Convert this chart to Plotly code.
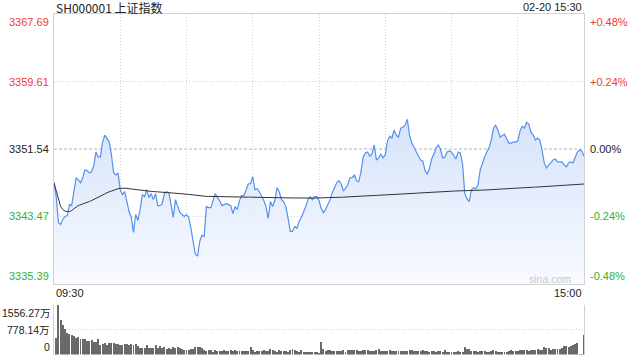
import plotly.graph_objects as go

# ---------------- data ----------------
prev_close = 3351.54
price_ticks = [3367.69, 3359.61, 3351.54, 3343.47, 3335.39]
pct_labels = ["+0.48%", "+0.24%", "0.00%", "-0.24%", "-0.48%"]
vol_ticks = [1556.27, 778.14, 0]
vol_labels = ["1556.27万", "778.14万", "0"]
time_labels = ["09:30", "15:00"]
grid_minutes = [30, 60, 90, 120, 150, 180, 210]

price = [
    3347.50, 3345.84, 3342.75, 3342.52, 3343.11, 3343.47, 3343.58, 3344.89, 3344.77, 3346.67,
    3348.10, 3347.86, 3347.50, 3348.10, 3349.05, 3348.93, 3348.69, 3348.81, 3349.52, 3351.18,
    3350.59, 3350.59, 3352.37, 3353.20, 3352.73, 3352.37, 3350.83, 3348.69, 3348.45, 3348.69,
    3346.67, 3346.08, 3346.43, 3345.25, 3344.06, 3343.35, 3341.57, 3343.70, 3342.99, 3344.30,
    3346.08, 3345.84, 3346.67, 3345.72, 3346.20, 3345.48, 3346.20, 3344.77, 3344.77, 3345.01,
    3346.20, 3346.43, 3346.32, 3344.89, 3343.35, 3345.48, 3344.65, 3343.94, 3343.70, 3343.47,
    3343.70, 3343.35, 3342.04, 3340.50, 3338.95, 3338.72, 3340.50, 3341.21, 3341.09, 3344.65,
    3344.53, 3344.53, 3345.48, 3346.20, 3345.72, 3345.37, 3344.77, 3344.89, 3345.01, 3344.89,
    3344.77, 3343.82, 3344.65, 3344.30, 3345.37, 3345.96, 3345.96, 3346.67, 3347.38, 3347.38,
    3348.22, 3346.67, 3346.79, 3346.43, 3345.96, 3345.37, 3344.65, 3343.23, 3345.25, 3344.65,
    3345.37, 3346.91, 3346.43, 3345.48, 3345.25, 3344.65, 3343.23, 3341.68, 3341.68, 3342.28,
    3342.04, 3342.87, 3343.35, 3343.94, 3344.65, 3345.48, 3345.84, 3345.48, 3345.84, 3345.84,
    3345.37, 3344.42, 3343.94, 3344.30, 3344.89, 3345.48, 3346.32, 3347.03, 3347.50, 3347.74,
    3347.38, 3346.55, 3346.79, 3347.27, 3348.10, 3348.10, 3348.45, 3347.74, 3347.62, 3348.81,
    3350.59, 3351.07, 3351.18, 3350.71, 3350.95, 3352.02, 3350.23, 3350.47, 3350.95, 3350.47,
    3350.83, 3352.49, 3353.08, 3352.85, 3353.80, 3353.20, 3352.97, 3354.03, 3354.15, 3354.39,
    3355.10, 3353.20, 3352.25, 3351.78, 3351.18, 3350.71, 3350.23, 3350.12, 3348.93, 3348.57,
    3349.17, 3350.35, 3350.95, 3351.66, 3352.02, 3351.54, 3350.47, 3350.59, 3351.18, 3351.30,
    3351.18, 3350.71, 3350.35, 3351.18, 3351.07, 3349.76, 3346.20, 3345.60, 3345.25, 3346.67,
    3346.91, 3346.79, 3347.27, 3349.05, 3349.88, 3350.59, 3351.18, 3351.66, 3352.61, 3354.03,
    3354.39, 3353.80, 3352.97, 3353.20, 3353.32, 3352.73, 3352.25, 3352.25, 3352.37, 3352.37,
    3352.49, 3353.68, 3354.27, 3354.03, 3354.75, 3354.51, 3353.56, 3353.20, 3352.61, 3352.85,
    3352.61, 3351.42, 3349.88, 3349.28, 3349.64, 3350.00, 3350.23, 3350.35, 3350.00, 3350.00,
    3350.00, 3349.64, 3349.40, 3349.88, 3350.00, 3349.88, 3350.47, 3351.18, 3351.42, 3351.30,
    3350.71,
]

avg_price = [
    3347.50, 3346.43, 3345.37, 3344.65, 3344.30, 3344.10, 3344.06, 3344.06, 3344.18, 3344.42,
    3344.59, 3344.77, 3344.89, 3345.01, 3345.09, 3345.16, 3345.25, 3345.37, 3345.48, 3345.60,
    3345.78, 3345.90, 3346.02, 3346.16, 3346.32, 3346.43, 3346.55, 3346.65, 3346.73, 3346.79,
    3346.84, 3346.86, 3346.86, 3346.84, 3346.79, 3346.75, 3346.72, 3346.68, 3346.66, 3346.62,
    3346.59, 3346.55, 3346.53, 3346.49, 3346.47, 3346.45, 3346.42, 3346.40, 3346.38, 3346.36,
    3346.34, 3346.33, 3346.32, 3346.29, 3346.27, 3346.26, 3346.24, 3346.22, 3346.20, 3346.18,
    3346.15, 3346.11, 3346.08, 3346.04, 3346.01, 3345.96, 3345.91, 3345.89, 3345.88, 3345.87,
    3345.87, 3345.86, 3345.86, 3345.86, 3345.85, 3345.85, 3345.85, 3345.84, 3345.84, 3345.84,
    3345.83, 3345.82, 3345.82, 3345.81, 3345.80, 3345.80, 3345.79, 3345.79, 3345.78, 3345.78,
    3345.77, 3345.76, 3345.76, 3345.75, 3345.75, 3345.74, 3345.74, 3345.73, 3345.73, 3345.72,
    3345.72, 3345.71, 3345.71, 3345.70, 3345.70, 3345.69, 3345.69, 3345.68, 3345.68, 3345.68,
    3345.67, 3345.67, 3345.67, 3345.67, 3345.67, 3345.67, 3345.67, 3345.67, 3345.67, 3345.68,
    3345.68, 3345.69, 3345.69, 3345.70, 3345.70, 3345.71, 3345.72, 3345.73, 3345.74, 3345.76,
    3345.77, 3345.78, 3345.80, 3345.81, 3345.83, 3345.84, 3345.86, 3345.88, 3345.89, 3345.90,
    3345.92, 3345.93, 3345.94, 3345.95, 3345.97, 3345.98, 3345.99, 3346.00, 3346.02, 3346.03,
    3346.04, 3346.06, 3346.07, 3346.09, 3346.10, 3346.12, 3346.13, 3346.15, 3346.16, 3346.18,
    3346.19, 3346.21, 3346.22, 3346.24, 3346.25, 3346.27, 3346.29, 3346.31, 3346.33, 3346.35,
    3346.37, 3346.39, 3346.41, 3346.43, 3346.45, 3346.47, 3346.48, 3346.48, 3346.49, 3346.50,
    3346.51, 3346.51, 3346.52, 3346.53, 3346.53, 3346.54, 3346.55, 3346.55, 3346.56, 3346.57,
    3346.57, 3346.58, 3346.59, 3346.60, 3346.62, 3346.63, 3346.65, 3346.66, 3346.68, 3346.69,
    3346.71, 3346.72, 3346.74, 3346.75, 3346.77, 3346.78, 3346.80, 3346.81, 3346.83, 3346.84,
    3346.85, 3346.87, 3346.88, 3346.90, 3346.92, 3346.93, 3346.95, 3346.97, 3346.98, 3347.00,
    3347.02, 3347.03, 3347.05, 3347.07, 3347.08, 3347.10, 3347.12, 3347.13, 3347.15, 3347.17,
    3347.18, 3347.20, 3347.22, 3347.23, 3347.25, 3347.27, 3347.28, 3347.30, 3347.32, 3347.33,
    3347.35,
]

volume = [  # 万
    0, 524, 1556.27, 1080, 922, 796, 681, 650, 618, 576,
    524, 555, 482, 482, 482, 419, 419, 450, 398, 388,
    482, 304, 335, 356, 293, 356, 356, 356, 335, 325,
    293, 304, 325, 325, 304, 335, 293, 325, 262, 210,
    210, 189, 293, 199, 189, 210, 293, 210, 252, 210,
    231, 178, 189, 178, 231, 189, 231, 189, 168, 147,
    136, 147, 178, 178, 231, 231, 231, 189, 136, 115,
    157, 136, 94, 126, 105, 105, 105, 126, 115, 105,
    126, 115, 136, 115, 105, 105, 105, 105, 105, 231,
    126, 84, 105, 105, 105, 136, 105, 105, 168, 136,
    115, 84, 136, 115, 115, 115, 84, 126, 168, 136,
    115, 84, 147, 94, 84, 84, 84, 84, 84, 84,
    31, 388, 168, 115, 126, 136, 105, 105, 105, 105,
    105, 136, 84, 136, 136, 136, 136, 136, 115, 115,
    136, 136, 136, 115, 115, 115, 157, 168, 115, 105,
    105, 115, 136, 105, 105, 105, 105, 105, 105, 105,
    105, 136, 136, 115, 105, 105, 115, 136, 115, 105,
    84, 105, 105, 84, 105, 115, 84, 136, 84, 84,
    84, 84, 84, 105, 84, 84, 231, 178, 178, 115,
    105, 115, 84, 105, 105, 105, 84, 84, 115, 136,
    105, 84, 84, 84, 84, 84, 105, 136, 105, 105,
    105, 136, 136, 136, 136, 105, 136, 136, 136, 168,
    136, 157, 231, 199, 199, 157, 168, 168, 168, 168,
    210, 262, 262, 241, 272, 304, 335, 356, 10, 10,
    608,
]

minutes = list(range(len(price)))

# ---------------- styles ----------------
FONT = "Liberation Sans, Arial, Noto Sans CJK SC, sans-serif"
CJK = "Noto Sans CJK SC, Liberation Sans, sans-serif"
RED = "#f03a30"
GREEN = "#33b033"
BLACK = "#222222"
GRID = "#cfcfcf"
BORDER = "#d2d2d2"
XD = [54 / 640, 584 / 640]
YD_MAIN = [(360 - 284) / 360, (360 - 14) / 360]
YD_VOL = [(360 - 354.5) / 360, (360 - 305) / 360]

fig = go.Figure()

fig.add_trace(go.Scatter(
    x=minutes, y=price, mode="lines",
    line=dict(color="#5590ee", width=1.2),
    fill="tozeroy",
    fillgradient=dict(type="vertical",
                      colorscale=[[0, "rgba(248,250,255,1)"], [1, "rgba(214,227,250,1)"]],
                      start=price_ticks[-1], stop=max(price)),
    hoverinfo="skip", xaxis="x", yaxis="y",
))
fig.add_trace(go.Scatter(
    x=minutes, y=avg_price, mode="lines",
    line=dict(color="#333333", width=1),
    hoverinfo="skip", xaxis="x", yaxis="y",
))
fig.add_trace(go.Bar(
    x=minutes, y=volume, width=0.45,
    marker=dict(color="#6a6a6a", line=dict(width=0)),
    hoverinfo="skip", xaxis="x2", yaxis="y2",
))

fig.add_shape(type="line", xref="x", yref="y", x0=minutes[0], x1=minutes[-1],
              y0=prev_close, y1=prev_close, layer="below",
              line=dict(color="#b5b5b5", width=1, dash="3px,2px"))

annotations = []
for i, (v, pl) in enumerate(zip(price_ticks, pct_labels)):
    col = RED if v > prev_close else (GREEN if v < prev_close else BLACK)
    ya = "top" if i == 0 else ("bottom" if i == len(price_ticks) - 1 else "middle")
    annotations.append(dict(xref="paper", yref="y", x=XD[0], y=v, xshift=-3,
                            xanchor="right", yanchor=ya, text=f"{v:.2f}", showarrow=False,
                            font=dict(family=FONT, size=11, color=col)))
    annotations.append(dict(xref="paper", yref="y", x=XD[1], y=v, xshift=4,
                            xanchor="left", yanchor=ya, text=pl, showarrow=False,
                            font=dict(family=FONT, size=11, color=col)))
for i, (v, lab) in enumerate(zip(vol_ticks, vol_labels)):
    ya = "top" if i == 0 else ("bottom" if i == len(vol_ticks) - 1 else "middle")
    annotations.append(dict(xref="paper", yref="y2", x=XD[0], y=v, xshift=-2,
                            xanchor="right", yanchor=ya, text=lab, showarrow=False,
                            font=dict(family=FONT, size=10.5, color=BLACK)))
annotations.append(dict(xref="paper", yref="paper", x=XD[0], y=(360 - 293) / 360,
                        xanchor="left", yanchor="middle", text=time_labels[0], showarrow=False,
                        font=dict(family=FONT, size=11, color=BLACK)))
annotations.append(dict(xref="paper", yref="paper", x=XD[1], y=(360 - 293) / 360,
                        xanchor="right", yanchor="middle", text=time_labels[1], showarrow=False,
                        font=dict(family=FONT, size=11, color=BLACK)))
annotations.append(dict(xref="paper", yref="paper", x=XD[0], y=(360 - 7) / 360,
                        xanchor="left", yanchor="middle", text="SH000001 上证指数", showarrow=False,
                        font=dict(family=CJK, size=12, color=BLACK)))
annotations.append(dict(xref="paper", yref="paper", x=XD[1], y=(360 - 7) / 360,
                        xanchor="right", yanchor="middle", text="02-20 15:30", showarrow=False,
                        font=dict(family=FONT, size=11, color=BLACK)))
annotations.append(dict(xref="paper", yref="paper", x=573 / 640, y=(360 - 279) / 360,
                        xanchor="right", yanchor="middle", text="sina.com", showarrow=False,
                        font=dict(family=FONT, size=10.5, color="#c8c8c8")))

fig.update_layout(
    width=640, height=360,
    margin=dict(l=0, r=0, t=0, b=0),
    paper_bgcolor="white", plot_bgcolor="rgba(0,0,0,0)",
    showlegend=False,
    annotations=annotations,
    xaxis=dict(domain=XD, range=[minutes[0], minutes[-1]], anchor="y",
               tickvals=grid_minutes, showticklabels=False, ticks="",
               showgrid=True, gridcolor=GRID, griddash="1px,2px", gridwidth=1,
               showline=True, mirror=True, linecolor=BORDER, linewidth=1, zeroline=False),
    yaxis=dict(domain=YD_MAIN, range=[price_ticks[-1], price_ticks[0]], anchor="x",
               tickvals=[price_ticks[1], price_ticks[3]], showticklabels=False, ticks="",
               showgrid=True, gridcolor=GRID, griddash="1px,2px", gridwidth=1,
               showline=True, mirror=True, linecolor=BORDER, linewidth=1, zeroline=False),
    xaxis2=dict(domain=XD, range=[minutes[0], minutes[-1]], anchor="y2",
                showticklabels=False, ticks="", showgrid=False, showline=False, zeroline=False),
    yaxis2=dict(domain=YD_VOL, range=[0, vol_ticks[0]], anchor="x2",
                tickvals=[vol_ticks[1], vol_ticks[0]], showticklabels=False, ticks="",
                showgrid=True, gridcolor=GRID, griddash="1px,2px", gridwidth=1,
                showline=True, mirror=True, linecolor=BORDER, linewidth=1, zeroline=False),
    bargap=0,
)

fig.write_html("out.html")
